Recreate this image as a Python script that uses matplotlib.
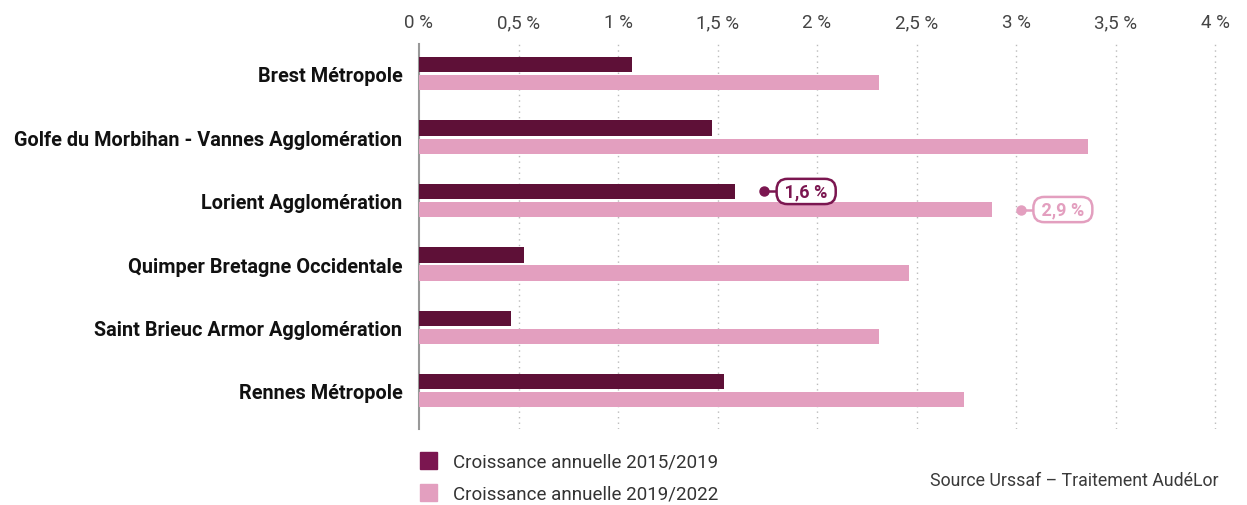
import matplotlib.pyplot as plt
from matplotlib.patches import Patch

plt.rcParams['font.family'] = ['Roboto', 'DejaVu Sans']

territoires = ['Brest Métropole', 'Golfe du Morbihan - Vannes Agglomération',
               'Lorient Agglomération', 'Quimper Bretagne Occidentale',
               'Saint Brieuc Armor Agglomération', 'Rennes Métropole']
croissance_2015_2019 = [1.07, 1.47, 1.59, 0.53, 0.46, 1.53]
croissance_2019_2022 = [2.31, 3.36, 2.88, 2.46, 2.31, 2.74]
series = ['Croissance annuelle 2015/2019', 'Croissance annuelle 2019/2022']
ticks = [0, 0.5, 1, 1.5, 2, 2.5, 3, 3.5, 4]

dark = '#5e1037'
dark_leg = '#7b1650'
pink = '#e39fbf'

fig = plt.figure(figsize=(12.47, 5.06), dpi=100)
ax = fig.add_axes([419 / 1247, 1 - 430 / 506, 1 - 419 / 1247 - 7 / 1247, (430 - 45) / 506])

y = list(range(len(territoires)))
h = 0.24
ax.barh([i - 0.145 for i in y], croissance_2015_2019, height=h, color=dark, zorder=3)
ax.barh([i + 0.14 for i in y], croissance_2019_2022, height=h, color=pink, zorder=3)

ax.set_xlim(0, 4.125)
ax.set_ylim(5.6, -0.47)
ax.set_yticks(y)
ax.set_yticklabels(territoires, fontsize=14.3, fontweight='bold', color='#111111')
ax.set_xticks(ticks)
ax.set_xticklabels([('%g %%' % t).replace('.', ',') for t in ticks], fontsize=13.5,
                   color='#444444')
ax.xaxis.tick_top()
ax.tick_params(axis='x', length=0, pad=9)
ax.tick_params(axis='y', length=0, pad=12)
for t in ticks[1:]:
    ax.axvline(t, color='#bbbbbb', linestyle=(0, (1, 3)), linewidth=1, zorder=1)
for s in ['top', 'right', 'bottom']:
    ax.spines[s].set_visible(False)
ax.spines['left'].set_color('#999999')
ax.spines['left'].set_linewidth(1.5)

# annotations pour Lorient
idx = 2
for val, off, col in [(croissance_2015_2019[idx], -0.145, dark_leg), (croissance_2019_2022[idx], 0.14, pink)]:
    yy = idx + off
    xd = val + 0.145
    ax.plot([xd, xd + 0.08], [yy, yy], color=col, linewidth=1.8, zorder=4)
    ax.plot([xd], [yy], marker='o', markersize=6.5, color=col, zorder=5)
    ax.text(xd + 0.08, yy, ' ' + ('%.1f %%' % val).replace('.', ',') + ' ', ha='left', va='center',
            fontsize=13, fontweight='bold', color=col, zorder=6,
            bbox=dict(boxstyle='round,pad=0.2,rounding_size=0.6', fc='white', ec=col, lw=1.8))

handles = [Patch(color=dark_leg), Patch(color=pink)]
fig.legend(handles, series, loc='upper left', bbox_to_anchor=(403 / 1247, 1 - 436 / 506),
           frameon=False, fontsize=13.5, handlelength=0.9, handleheight=1.0,
           handletextpad=0.85, labelspacing=0.72, labelcolor='#333333')

fig.text(1219 / 1247, 1 - 481 / 506, 'Source Urssaf – Traitement AudéLor', ha='right', va='center',
         fontsize=12.8, color='#3a3a3a')

fig.savefig('out.png', dpi=100)
